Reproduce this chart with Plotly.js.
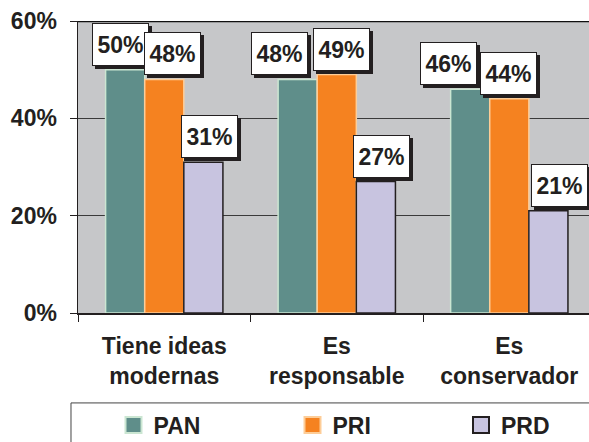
<!DOCTYPE html>
<html>
<head>
<meta charset="utf-8">
<script src="https://cdn.plot.ly/plotly-3.0.1.min.js"></script>
<style>
html,body{margin:0;padding:0;background:#fff;}
#chart{width:589px;height:442px;}
</style>
</head>
<body>
<div id="chart"></div>
<script>
// ---- data ----
const categories = ['Tiene ideas<br>modernas', 'Es<br>responsable', 'Es<br>conservador'];
const seriesNames = ['PAN', 'PRI', 'PRD'];
const panValues = [50, 48, 46];
const priValues = [48, 49, 44];
const prdValues = [31, 27, 21];
const yTickValues = [0, 20, 40, 60];
const yTickLabels = ['0%', '20%', '40%', '60%'];

// ---- style ----
const values = [panValues, priValues, prdValues];
const fills = ['#5f8e8a', '#f58220', '#c8c4e0'];
const edges = ['#cbe6d2', '#fdcd98', '#231f20'];
const labelNudge = [[-5, -18, -22], [8, 5, -1], [6, 6, 11]]; // px, per series per category
const legendX = [0.1927, 0.4966, 0.7827]; // container fraction for each legend key
const legendIds = ['legend', 'legend2', 'legend3'];
const ink = '#231f20';
const fontFam = '"Liberation Sans", Arial, Helvetica, sans-serif';
const fs = 23;
const bargap = 0.32;

const traces = seriesNames.map((name, s) => ({
  type: 'bar',
  name: name,
  legendgroup: name,
  showlegend: false,
  x: categories,
  y: values[s],
  marker: {color: fills[s], line: {color: edges[s], width: 1.5}},
  hoverinfo: 'skip'
}));
// legend keys (larger square swatches, no data points)
seriesNames.forEach((name, s) => {
  traces.push({
    type: 'scatter', mode: 'markers',
    name: name, legendgroup: name, showlegend: true,
    legend: legendIds[s],
    x: [null], y: [null],
    marker: {symbol: 'square', size: 16, color: fills[s], line: {color: edges[s], width: 2}},
    hoverinfo: 'skip'
  });
});

const annotations = [];
const slot = (1 - bargap) / 3;
values.forEach((vals, s) => {
  vals.forEach((v, i) => {
    const base = {
      x: i + (s - 1) * slot,
      y: v,
      xref: 'x', yref: 'y',
      xanchor: 'center', yanchor: 'bottom',
      showarrow: false,
      text: v + '%',
      width: 53, height: 39,
      borderpad: 1, borderwidth: 1
    };
    annotations.push(Object.assign({}, base, {
      xshift: labelNudge[s][i] + 3, yshift: 1,
      bgcolor: ink, bordercolor: ink,
      font: {family: fontFam, size: fs, weight: 700, color: ink}
    }));
    annotations.push(Object.assign({}, base, {
      xshift: labelNudge[s][i], yshift: 4,
      bgcolor: '#ffffff', bordercolor: ink,
      font: {family: fontFam, size: fs, weight: 700, color: ink}
    }));
  });
});

const layout = {
  width: 589, height: 442,
  margin: {l: 78, r: 0, t: 21, b: 129},
  paper_bgcolor: '#ffffff',
  plot_bgcolor: '#c6c7c9',
  barmode: 'group',
  bargap: bargap,
  bargroupgap: 0,
  font: {family: fontFam, size: fs, color: ink, weight: 700},
  showlegend: true,
  xaxis: {
    type: 'category',
    range: [-0.5, 2.462],
    automargin: false,
    showline: true, linecolor: ink, linewidth: 1.5,
    ticks: 'outside', tickson: 'boundaries', ticklen: 7, tickcolor: ink, tickwidth: 1,
    showgrid: false,
    ticklabelstandoff: 12,
    tickfont: {family: fontFam, size: fs, color: ink, weight: 700},
    fixedrange: true
  },
  yaxis: {
    range: [0, 60],
    automargin: false,
    tickvals: yTickValues,
    ticktext: yTickLabels,
    showline: true, linecolor: ink, linewidth: 1.5,
    ticks: 'outside', ticklen: 7, tickcolor: ink, tickwidth: 1,
    showgrid: true, gridcolor: '#3a3a3a', gridwidth: 1,
    zeroline: false,
    ticklabelstandoff: 8,
    tickfont: {family: fontFam, size: fs, color: ink, weight: 700},
    fixedrange: true
  },
  shapes: [
    {type: 'line', xref: 'paper', yref: 'y', x0: 0, x1: 1, y0: 60, y1: 60, line: {color: '#111', width: 2.5}, layer: 'above'},
    {type: 'rect', xref: 'paper', yref: 'paper', x0: -0.0137, x1: 1.05, y0: -0.308, y1: -0.6, line: {color: '#444', width: 1}, fillcolor: 'rgba(0,0,0,0)'}
  ],
  annotations: annotations
};
legendIds.forEach((id, s) => {
  layout[id] = {
    orientation: 'h',
    xref: 'container', yref: 'container',
    x: legendX[s], xanchor: 'left',
    y: 0.0385, yanchor: 'middle',
    itemsizing: 'trace',
    font: {family: fontFam, size: fs, color: ink, weight: 700},
    bgcolor: 'rgba(0,0,0,0)',
    borderwidth: 0
  };
});

Plotly.newPlot('chart', traces, layout, {displayModeBar: false, staticPlot: true});
</script>
</body>
</html>
